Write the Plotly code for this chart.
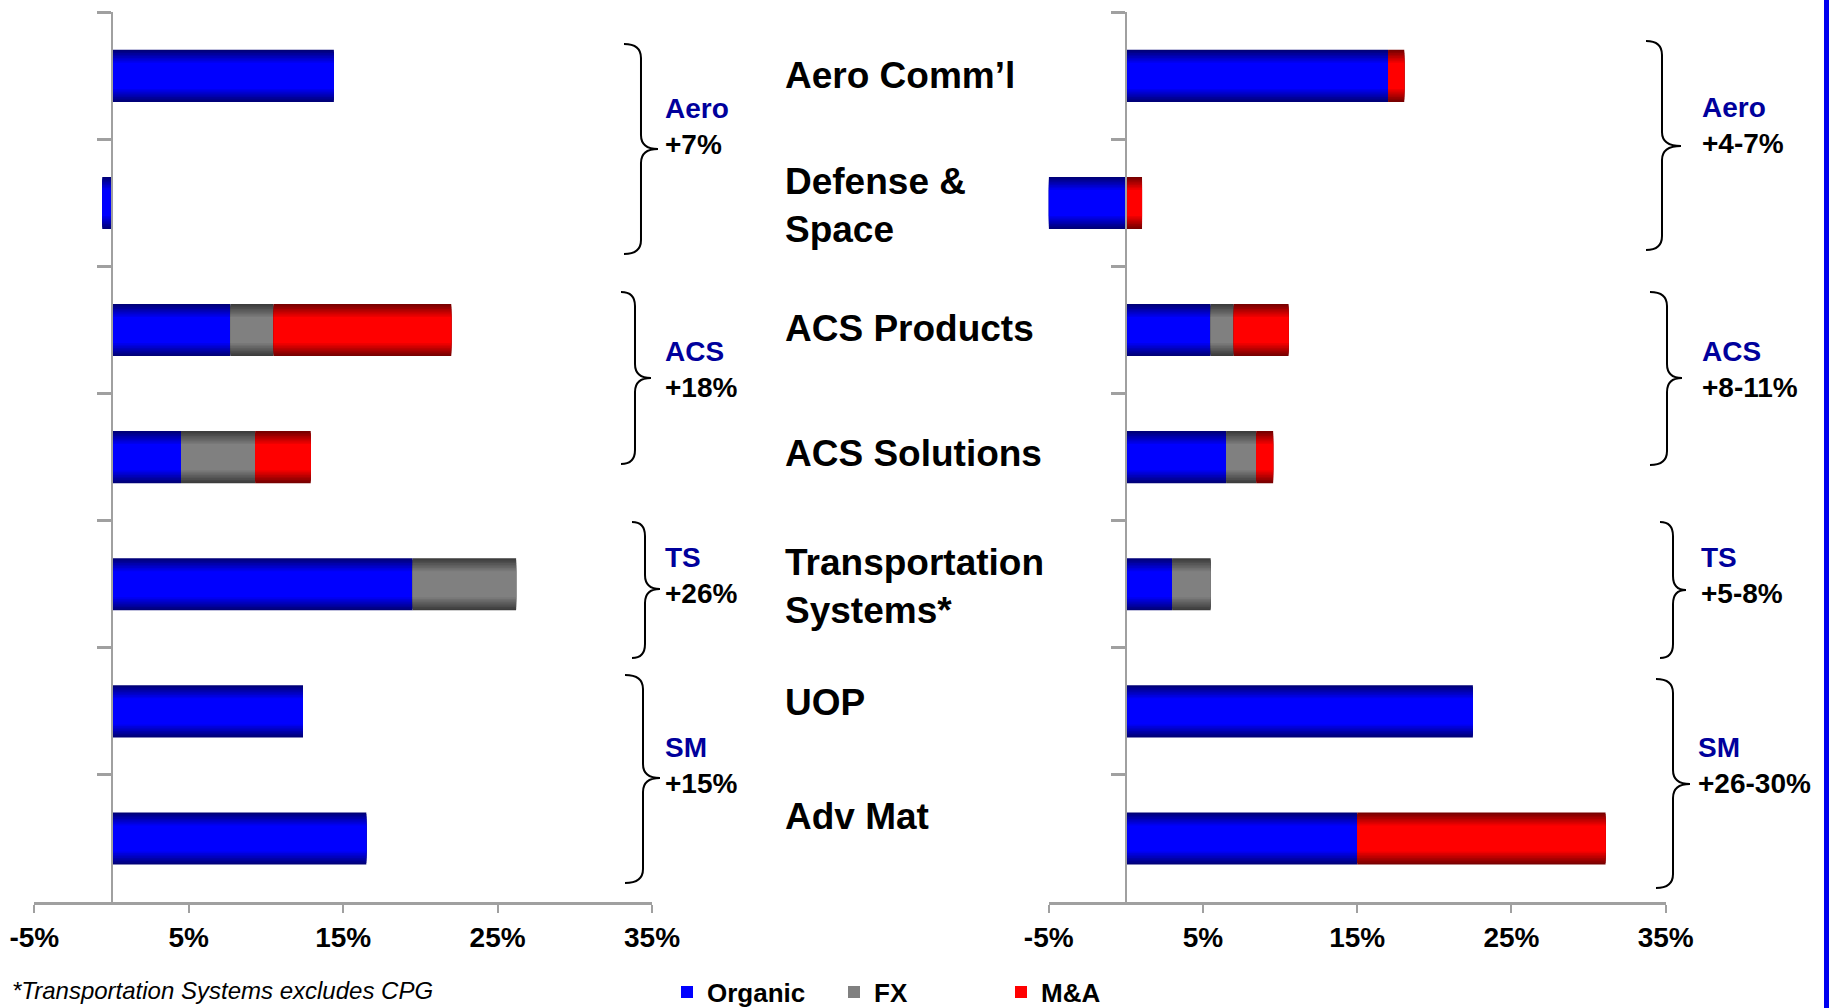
import plotly.graph_objects as go

# ---------------- data ----------------
categories = ["Aero Comm’l", "Defense & Space", "ACS Products", "ACS Solutions",
              "Transportation Systems*", "UOP", "Adv Mat"]
category_labels = ["Aero Comm’l", "Defense &amp;<br>Space", "ACS Products", "ACS Solutions",
                   "Transportation<br>Systems*", "UOP", "Adv Mat"]

left_organic = [14.4, -0.6, 7.7, 4.5, 19.5, 12.4, 16.5]
left_fx = [0, 0, 2.8, 4.8, 6.7, 0, 0]
left_ma = [0, 0, 11.5, 3.6, 0, 0, 0]

right_organic = [17.0, -5.0, 5.5, 6.5, 3.0, 22.5, 15.0]
right_fx = [0, 0, 1.5, 1.95, 2.5, 0, 0]
right_ma = [1.05, 1.05, 3.55, 1.1, 0, 0, 16.1]

x_tickvals = [-5, 5, 15, 25, 35]
x_ticktext = ["-5%", "5%", "15%", "25%", "35%"]

group_names = ["Aero", "ACS", "TS", "SM"]
left_group_growth = ["+7%", "+18%", "+26%", "+15%"]
right_group_growth = ["+4-7%", "+8-11%", "+5-8%", "+26-30%"]

series_names = ["Organic", "FX", "M&amp;A"]
footnote = "*Transportation Systems excludes CPG"

# ---------------- styling helpers ----------------
W_PX, H_PX = 1829, 1008
B_MARGIN = 50
HP = H_PX - B_MARGIN
def px(x):
    return x / W_PX
def py(y):
    return (HP - y) / HP

FONT = "Liberation Sans, Arial, sans-serif"
AX = "#A0A0A0"
DARK = ["#000078", "#3C3C3C", "#780000"]
BRIGHT = ["#0000FF", "#808080", "#FF0000"]

def hex2rgb(h):
    h = h.lstrip("#")
    return tuple(int(h[i:i + 2], 16) for i in (0, 2, 4))

def blend(c1, c2, t):
    a, b = hex2rgb(c1), hex2rgb(c2)
    return "rgb(%d,%d,%d)" % tuple(round(a[i] + (b[i] - a[i]) * t) for i in range(3))

fig = go.Figure()

N_LAYERS = 9
BAR_W = 0.41

panels = [
    ("x", "y", left_organic, left_fx, left_ma),
    ("x2", "y2", right_organic, right_fx, right_ma),
]
for p, (xa, ya, org, fx, ma) in enumerate(panels):
    base_org = [0] * len(org)
    base_fx = [max(o, 0) for o in org]
    base_ma = [max(o, 0) + f for o, f in zip(org, fx)]
    for s, (vals, base) in enumerate([(org, base_org), (fx, base_fx), (ma, base_ma)]):
        for k in range(N_LAYERS):
            t = k / (N_LAYERS - 1)
            fig.add_trace(go.Bar(
                orientation="h", y=categories, x=vals, base=base,
                width=BAR_W * (1 - 0.5 * t),
                marker=dict(color=blend(DARK[s], BRIGHT[s], t), line=dict(width=0)),
                xaxis=xa, yaxis=ya,
                name=series_names[s], legendgroup=series_names[s],
                showlegend=(p == 0 and k == N_LAYERS - 1),
                hoverinfo="x+y+name" if k == N_LAYERS - 1 else "skip",
            ))

tickfont = dict(family=FONT, size=28, color="black", weight="bold")
xcommon = dict(range=[-5, 35], tickmode="array", tickvals=x_tickvals, ticktext=x_ticktext,
               showline=True, automargin=False,
               linecolor=AX, linewidth=3, ticks="outside", ticklen=8, tickwidth=2,
               tickcolor=AX, showgrid=False, zeroline=False, tickfont=tickfont)
ycommon = dict(type="category", categoryorder="array", categoryarray=categories,
               range=[6.5, -0.5], domain=[py(902), py(12.3)],
               anchor="free", showline=True, linecolor=AX, linewidth=2, automargin=False,
               ticks="outside", tickson="boundaries", ticklen=14, tickwidth=3,
               tickcolor=AX, showticklabels=False, showgrid=False, zeroline=False)

fig.update_layout(
    width=W_PX, height=H_PX, autosize=False,
    margin=dict(l=0, r=0, t=0, b=B_MARGIN, pad=0),
    paper_bgcolor="white", plot_bgcolor="white",
    barmode="overlay",
    xaxis=dict(domain=[px(34.3), px(652)], anchor="y", **xcommon),
    xaxis2=dict(domain=[px(1048.7), px(1665.7)], anchor="y2", **xcommon),
    yaxis=dict(position=px(111.6), **ycommon),
    yaxis2=dict(position=px(1125.7), **ycommon),
    legend=dict(orientation="h", xref="container", yref="container",
                x=px(667), xanchor="left", y=(H_PX - 992) / H_PX, yanchor="middle",
                font=dict(family=FONT, size=26, color="black", weight="bold"),
                entrywidth=122, entrywidthmode="pixels", bgcolor="rgba(0,0,0,0)",
                traceorder="normal"),
    showlegend=True,
)

label_yshift = [0, -3, 2, 3.5, -2, 9, 22]
annotations = []
for cat, lab, ys in zip(categories, category_labels, label_yshift):
    annotations.append(dict(x=px(783), xref="paper", y=cat, yref="y", text=lab, yshift=ys,
                            xanchor="left", yanchor="middle", align="left", showarrow=False,
                            font=dict(family=FONT, size=37, color="black", weight="bold")))

left_label_pos = [(663, 126.5), (663, 369.5), (663, 575), (663, 765.5)]
right_label_pos = [(1700, 126), (1700, 369.7), (1699, 575), (1696, 765.5)]
for pos, growth in ((left_label_pos, left_group_growth), (right_label_pos, right_group_growth)):
    for (lx, ly), name, g in zip(pos, group_names, growth):
        annotations.append(dict(
            x=px(lx), y=py(ly), xref="paper", yref="paper", xanchor="left", yanchor="middle",
            align="left", showarrow=False,
            text=f"<span style='color:#00009C'>{name}</span><br>{g}",
            font=dict(family=FONT, size=28, color="black", weight="bold")))

annotations.append(dict(x=px(10), y=py(990), xref="paper", yref="paper", xanchor="left",
                        yanchor="middle", showarrow=False, text=footnote,
                        font=dict(family=FONT, size=24, color="black", style="italic")))
fig.update_layout(annotations=annotations)

def brace(ex, sx, tx, yt, ym, yb, r=14):
    def P(x, y):
        return f"{px(x):.5f},{py(y):.5f}"
    return (f"M{P(ex, yt)} Q{P(sx, yt)} {P(sx, yt + r)} L{P(sx, ym - r)} "
            f"Q{P(sx, ym)} {P(tx, ym)} Q{P(sx, ym)} {P(sx, ym + r)} "
            f"L{P(sx, yb - r)} Q{P(sx, yb)} {P(ex, yb)}")

braces = [
    (624, 641, 658, 44, 149, 254),
    (621, 635, 651, 292, 378, 464),
    (632, 645, 660, 522, 589, 658),
    (625, 643, 660, 675, 778, 883),
    (1646, 1662, 1681, 41, 146, 250),
    (1650, 1667, 1682, 292, 378, 465),
    (1660, 1673, 1686, 522, 590, 658),
    (1656, 1673, 1690, 679, 784, 888),
]
shapes = [dict(type="path", xref="paper", yref="paper", path=brace(*b),
               line=dict(color="black", width=2)) for b in braces]
shapes.append(dict(type="rect", xref="paper", yref="paper", x0=px(1824), x1=1.002,
                   y0=py(H_PX + 2), y1=py(-2), fillcolor="#0000F0", line=dict(width=0)))
fig.update_layout(shapes=shapes)

fig.write_html("out.html", config={"displayModeBar": False},
               post_script="document.body.style.margin='0';document.body.style.overflow='hidden';")
